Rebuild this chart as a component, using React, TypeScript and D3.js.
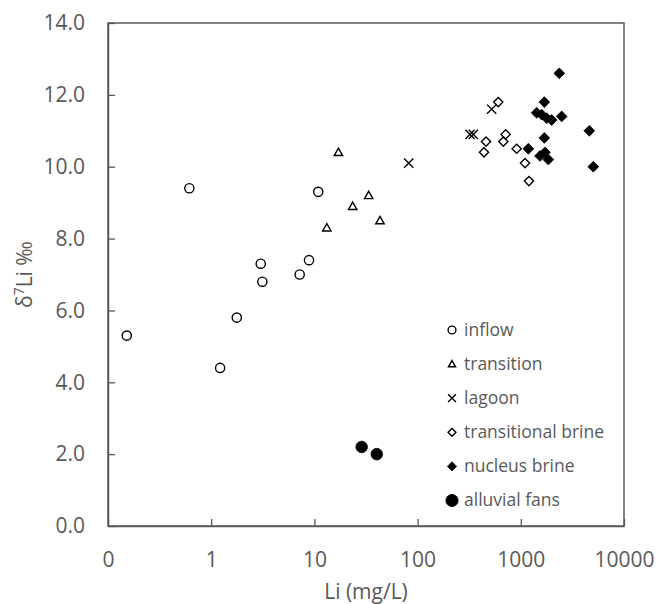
import React, { useRef, useEffect } from 'react';
import * as d3 from 'd3';

// Li (mg/L) and δ7Li (‰) for each group
const inflowLi = [0.152, 0.614, 1.22, 1.77, 3.02, 3.13, 7.2, 8.87, 10.9];
const inflowD7 = [5.3, 9.4, 4.4, 5.8, 7.3, 6.8, 7.0, 7.4, 9.3];
const transitionLi = [13.2, 17.1, 23.5, 33.6, 43.2];
const transitionD7 = [8.3, 10.4, 8.9, 9.2, 8.5];
const lagoonLi = [82, 322, 347, 522];
const lagoonD7 = [10.1, 10.9, 10.9, 11.6];
const transBrineLi = [440, 460, 605, 677, 713, 912, 1099, 1200];
const transBrineD7 = [10.4, 10.7, 11.8, 10.7, 10.9, 10.5, 10.1, 9.6];
const nucleusLi = [1183, 1426, 1535, 1593, 1690, 1690, 1716, 1782, 1849, 1991, 2361, 2490, 4613, 5043];
const nucleusD7 = [10.5, 11.5, 10.3, 11.45, 11.8, 10.8, 10.4, 11.35, 10.2, 11.3, 12.6, 11.4, 11.0, 10.0];
const fansLi = [28.7, 40.2];
const fansD7 = [2.2, 2.0];

const xTicks = [0.1, 1, 10, 100, 1000, 10000];
const yTicks = [0, 2, 4, 6, 8, 10, 12, 14];

type Marker = 'circle' | 'triangle' | 'cross' | 'diamond' | 'diamondFilled' | 'dot';

const series: { name: string; marker: Marker; li: number[]; d7: number[] }[] = [
  { name: 'inflow', marker: 'circle', li: inflowLi, d7: inflowD7 },
  { name: 'transition', marker: 'triangle', li: transitionLi, d7: transitionD7 },
  { name: 'lagoon', marker: 'cross', li: lagoonLi, d7: lagoonD7 },
  { name: 'transitional brine', marker: 'diamond', li: transBrineLi, d7: transBrineD7 },
  { name: 'nucleus brine', marker: 'diamondFilled', li: nucleusLi, d7: nucleusD7 },
  { name: 'alluvial fans', marker: 'dot', li: fansLi, d7: fansD7 },
];

// marker shape around (0,0); s = scale factor
const markerPath = (m: Marker, s: number) => {
  const p = d3.path();
  if (m === 'circle') { p.arc(0, 0, 4.6 * s, 0, 2 * Math.PI); }
  else if (m === 'dot') { p.arc(0, 0, 5.8 * s, 0, 2 * Math.PI); }
  else if (m === 'triangle') {
    p.moveTo(0, -4.2 * s); p.lineTo(4.2 * s, 3.2 * s); p.lineTo(-4.2 * s, 3.2 * s); p.closePath();
  } else if (m === 'cross') {
    const h = 4.6 * s;
    p.moveTo(-h, -h); p.lineTo(h, h); p.moveTo(h, -h); p.lineTo(-h, h);
  } else {
    const h = (m === 'diamond' ? 4.6 : 5.4) * s;
    p.moveTo(0, -h); p.lineTo(h, 0); p.lineTo(0, h); p.lineTo(-h, 0); p.closePath();
  }
  return p.toString();
};

const styleMarker = (sel: d3.Selection<SVGPathElement, any, any, any>, m: Marker) => {
  const filled = m === 'diamondFilled' || m === 'dot';
  sel.attr('fill', filled ? '#000' : 'none')
    .attr('stroke', '#000')
    .attr('stroke-width', filled ? 0.8 : 1.4)
    .attr('stroke-linejoin', 'miter');
};

const LiChart = () => {
  const svgRef = useRef<SVGSVGElement>(null);

  useEffect(() => {
    if (!svgRef.current) return;
    const svg = d3.select(svgRef.current);
    svg.selectAll('*').remove();

    const width = 657;
    const height = 604;
    const margin = { top: 23, right: 33, bottom: 78, left: 108 };
    const font = "'Open Sans', sans-serif";
    const textColor = '#595959';
    const lineColor = '#595959';

    svg.attr('width', width).attr('height', height).style('background', '#fff');

    const x = d3.scaleLog().domain([0.1, 10000]).range([margin.left, width - margin.right]);
    const y = d3.scaleLinear().domain([0, 14]).range([height - margin.bottom, margin.top]);

    // plot frame
    svg.append('rect')
      .attr('x', margin.left).attr('y', margin.top)
      .attr('width', width - margin.left - margin.right)
      .attr('height', height - margin.top - margin.bottom)
      .attr('fill', 'none').attr('stroke', lineColor).attr('stroke-width', 1.5);

    // x axis
    const xAxis = svg.append('g')
      .attr('transform', `translate(0,${height - margin.bottom})`)
      .call(d3.axisBottom(x).tickValues(xTicks).tickSizeInner(-7).tickSizeOuter(0).tickPadding(26)
        .tickFormat(d => (+d < 1 ? '0' : String(d))));
    xAxis.select('.domain').attr('stroke', lineColor).attr('stroke-width', 1.5);
    xAxis.selectAll('.tick line').attr('stroke', lineColor).attr('stroke-width', 1.3);
    xAxis.selectAll('.tick text').attr('fill', textColor).style('font-family', font).style('font-size', '21px');

    // y axis
    const yAxis = svg.append('g')
      .attr('transform', `translate(${margin.left},0)`)
      .call(d3.axisLeft(y).tickValues(yTicks).tickSizeInner(-7).tickSizeOuter(0).tickPadding(23)
        .tickFormat(d => (+d).toFixed(1)));
    yAxis.select('.domain').attr('stroke', lineColor).attr('stroke-width', 1.5);
    yAxis.selectAll('.tick line').attr('stroke', lineColor).attr('stroke-width', 1.3);
    yAxis.selectAll('.tick text').attr('fill', textColor).style('font-family', font).style('font-size', '21px');

    // axis titles
    svg.append('text')
      .attr('x', (margin.left + width - margin.right) / 2).attr('y', 599)
      .attr('text-anchor', 'middle').attr('fill', textColor)
      .style('font-family', font).style('font-size', '21px')
      .text('Li (mg/L)');

    const yTitle = svg.append('text')
      .attr('transform', `translate(32,${(margin.top + height - margin.bottom) / 2}) rotate(-90)`)
      .attr('text-anchor', 'middle').attr('fill', textColor)
      .style('font-family', font).style('font-size', '21px');
    yTitle.append('tspan').text('δ');
    yTitle.append('tspan').attr('dy', -8).style('font-size', '14px').text('7');
    yTitle.append('tspan').attr('dy', 8).text('Li ‰');

    // points
    series.forEach(s => {
      const g = svg.append('g');
      const pts = g.selectAll('path')
        .data(s.li.map((v, i) => [v, s.d7[i]] as [number, number]))
        .enter().append('path')
        .attr('transform', d => `translate(${x(d[0])},${y(d[1])})`)
        .attr('d', markerPath(s.marker, 1));
      styleMarker(pts, s.marker);
    });

    // legend
    const legend = svg.append('g').attr('transform', 'translate(452,330)');
    series.forEach((s, i) => {
      const row = legend.append('g').attr('transform', `translate(0,${i * 34.1})`);
      const mk = row.append('path').attr('d', markerPath(s.marker, s.marker === 'dot' ? 1.05 : 0.85));
      styleMarker(mk, s.marker);
      row.append('text')
        .attr('x', 12).attr('y', 0).attr('dy', '0.34em')
        .attr('fill', textColor)
        .style('font-family', font).style('font-size', '17.5px')
        .text(s.name);
    });
  }, []);

  return (
    <div style={{ position: 'absolute', left: 0, top: 0 }}>
      <svg ref={svgRef} style={{ display: 'block' }}></svg>
    </div>
  );
};

export default LiChart;
